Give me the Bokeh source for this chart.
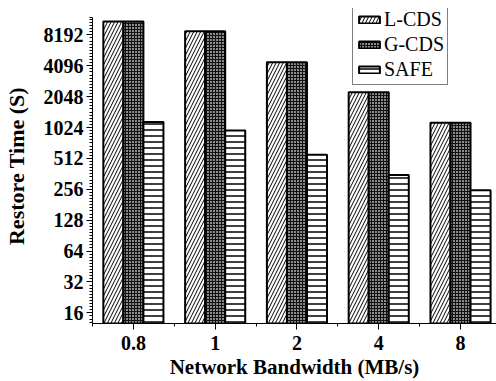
import numpy as np
from bokeh.plotting import figure
from bokeh.models import (ColumnDataSource, FixedTicker, Range1d, Legend, LegendItem)
from bokeh.transform import dodge
from bokeh.embed import file_html
from bokeh.resources import INLINE

categories = ["0.8", "1", "2", "4", "8"]
lcds = [11050, 8880, 4440, 2265, 1140]
gcds = [11050, 8880, 4440, 2265, 1140]
safe = [1156, 960, 557, 353, 250]
y_ticks = [16, 32, 64, 128, 256, 512, 1024, 2048, 4096, 8192]

xpos = [i + 0.5 for i in range(len(categories))]
src = ColumnDataSource(dict(x=xpos, lcds=lcds, gcds=gcds, safe=safe))

FONT = "Liberation Serif"
ymin, ymax = 12.6, 12000      # extent of the drawn y axis
yview_top = 14800             # frame extends a bit above the axis (room for the legend)

p = figure(width=496, height=381, y_axis_type="log",
           x_range=Range1d(0, 4.94), y_range=Range1d(ymin, yview_top),
           output_backend="svg", toolbar_location=None,
           min_border_left=90, min_border_top=8, min_border_right=0, min_border_bottom=58)
p.outline_line_color = None
p.xgrid.visible = False
p.ygrid.visible = False
p.background_fill_color = "white"

bw = 0.245
common = dict(width=bw, bottom=ymin, line_color="black", line_width=2, source=src)
r1 = p.vbar(x=dodge("x", -bw, range=p.x_range), top="lcds", fill_color="white",
            hatch_pattern="/", hatch_color="black", hatch_scale=7, hatch_weight=1, **common)
r2 = p.vbar(x=dodge("x", 0, range=p.x_range), top="gcds", fill_color="#8c8c8c",
            hatch_pattern="+", hatch_color="#111111", hatch_scale=3, hatch_weight=1, **common)
r3 = p.vbar(x=dodge("x", bw, range=p.x_range), top="safe", fill_color="white",
            hatch_pattern="-", hatch_color="black", hatch_scale=6, hatch_weight=1.5, **common)

# x axis
xa = p.xaxis[0]
xa.ticker = FixedTicker(ticks=xpos, minor_ticks=list(range(len(categories) + 1)))
xa.major_label_overrides = {x: c for x, c in zip(xpos, categories)}
xa.axis_label = "Network Bandwidth (MB/s)"

# y axis minor ticks (evenly in log space)
lo = np.log2(y_ticks[0]) - 1
minors = []
for k in range(int(lo), int(np.log2(y_ticks[-1])) + 1):
    for j in range(1, 10):
        v = 2 ** (k + j / 10)
        if ymin <= v <= ymax:
            minors.append(v)
ya = p.yaxis[0]
ya.ticker = FixedTicker(ticks=y_ticks, minor_ticks=minors + [ymax])
ya.major_label_overrides = {t: str(t) for t in y_ticks}
ya.axis_label = "Restore Time (S)"
ya.bounds = (ymin, ymax)

for ax in (xa, ya):
    ax.axis_line_color = "black"
    ax.axis_line_width = 1
    ax.major_tick_line_color = "black"
    ax.minor_tick_line_color = "black"
    ax.major_tick_in = 0
    ax.major_tick_out = 6
    ax.minor_tick_in = 0
    ax.minor_tick_out = 3
    ax.major_label_text_font = FONT
    ax.major_label_text_font_style = "bold"
    ax.major_label_text_font_size = "20px"
    ax.major_label_text_color = "black"
    ax.axis_label_text_font = FONT
    ax.axis_label_text_font_style = "bold"
    ax.axis_label_text_color = "black"

xa.axis_label_text_font_size = "21px"
ya.axis_label_text_font_size = "22px"
xa.major_label_standoff = 6
xa.axis_label_standoff = 2
ya.major_label_standoff = 3
ya.axis_label_standoff = 12

legend = Legend(items=[LegendItem(label="L-CDS", renderers=[r1]),
                       LegendItem(label="G-CDS", renderers=[r2]),
                       LegendItem(label="SAFE", renderers=[r3])],
                location=(260, 238))
legend.border_line_color = "black"
legend.border_line_width = 1
legend.background_fill_color = "white"
legend.background_fill_alpha = 1
legend.padding = 3
legend.margin = 0
legend.spacing = 2
legend.label_standoff = 2
legend.glyph_width = 26
legend.glyph_height = 9
legend.label_text_font = FONT
legend.label_text_font_size = "20px"
legend.label_text_color = "black"
p.add_layout(legend, "center")

open("out.html", "w").write(file_html(p, INLINE))
